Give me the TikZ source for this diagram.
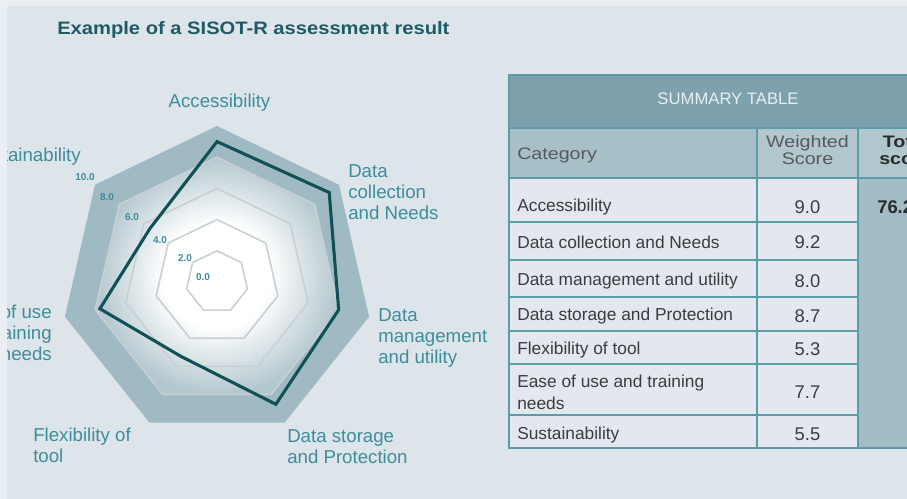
\documentclass[tikz,border=0pt]{standalone}
\usepackage{fontspec}
\setmainfont{Liberation Sans}
\newfontfamily\titlefont[FakeStretch=1.12]{Liberation Sans}
\newfontfamily\hdrfont[FakeStretch=1.18]{Liberation Sans}
\definecolor{bgc}{HTML}{DDE4EA}
\definecolor{stripc}{HTML}{EAEFF3}
\definecolor{titlec}{HTML}{1F5B64}
\definecolor{labc}{HTML}{3E8D9C}
\definecolor{bandc}{HTML}{A0BAC3}
\definecolor{radmid}{HTML}{B3C7CE}
\definecolor{gridc}{HTML}{C8D0D4}
\definecolor{datac}{HTML}{0F5157}
\definecolor{hdrc}{HTML}{7DA2AE}
\definecolor{colhc}{HTML}{A7BFC7}
\definecolor{colhcb}{HTML}{B2C6CD}
\definecolor{cellc}{HTML}{E2E8ED}
\definecolor{totc}{HTML}{A3BCC5}
\definecolor{tlinec}{HTML}{5C9CA8}
\definecolor{ttextc}{HTML}{3A3D40}
\definecolor{hdrtextc}{HTML}{E8EEF1}
\pgfdeclareradialshading{radarshade}{\pgfpoint{0bp}{0bp}}{color(0bp)=(white);color(11bp)=(white);color(25bp)=(radmid);color(50bp)=(radmid)}
\begin{document}
\begin{tikzpicture}[x=0.75pt,y=-0.75pt,
  lab/.style={text=labc, font=\fontsize{14}{15.8}\selectfont, inner sep=0pt},
  scalelab/.style={text=labc, font=\fontsize{7.5}{8}\selectfont\bfseries, inner sep=0pt},
  gridline/.style={draw=gridc, line width=1.2pt, line join=round},
  cell/.style={text=ttextc, font=\fontsize{13}{16.5}\selectfont, inner sep=0pt, anchor=west, align=left},
  val/.style={text=ttextc, font=\fontsize{13.8}{16}\selectfont, inner sep=0pt},
  colhead/.style={text=ttextc!85!white, font=\hdrfont\fontsize{12.5}{12.5}\selectfont, inner sep=0pt, align=center},
  tline/.style={draw=tlinec, line width=1.5pt}]
\useasboundingbox (0,0) rectangle (907,499);
\fill[bgc] (0,0) rectangle (907,499);

% title
\node[text=titlec, font=\titlefont\fontsize{13.5}{14}\selectfont\bfseries, inner sep=0pt, anchor=west] (title) at (57,30) {Example of a SISOT-R assessment result};

% radar background
\fill[bandc] plot[samples at={0,1,2,3,4,5,6}] ({217+156*cos(90-\x*360/7)},{282-156*sin(90-\x*360/7)}) -- cycle;
\shade[shading=radarshade] plot[samples at={0,1,2,3,4,5,6}] ({217+124.8*cos(90-\x*360/7)},{282-124.8*sin(90-\x*360/7)}) -- cycle;
\foreach \r in {31.2,62.4,93.6,124.8}
  \draw[gridline] plot[samples at={0,1,2,3,4,5,6}] ({217+\r*cos(90-\x*360/7)},{282-\r*sin(90-\x*360/7)}) -- cycle;

% scale labels
\node[scalelab] (s10) at (85,177) {10.0};
\node[scalelab] (s8) at (107,197) {8.0};
\node[scalelab] (s6) at (132,217) {6.0};
\node[scalelab] (s4) at (160,240) {4.0};
\node[scalelab] (s2) at (185,258) {2.0};
\node[scalelab] (s0) at (203,277) {0.0};

% data polygon
\foreach \v [count=\i from 0] in {9.0,9.2,8.0,8.7,5.3,7.7,5.5}
  \coordinate (d\i) at ({217+15.6*\v*cos(90-\i*360/7)},{282-15.6*\v*sin(90-\i*360/7)});
\draw[datac, line width=2.3pt, line join=miter] (d0) -- (d1) -- (d2) -- (d3) -- (d4) -- (d5) -- (d6) -- cycle;

% axis labels
\node[lab] (lacc) at (219.5,103) {Accessibility};
\node[lab, anchor=west, align=left] (ldc) at (348,192) {Data\\collection\\and Needs};
\node[lab, anchor=west, align=left] (ldm) at (378,338) {Data\\management\\and utility};
\node[lab, anchor=west, align=left] (lds) at (287,446.5) {Data storage\\and Protection};
\node[lab, anchor=west, align=left] (lfl) at (33,445) {Flexibility of\\tool};
\node[lab, anchor=east, align=right] (lease) at (52,333) {Ease of use\\and training\\needs};
\node[lab, anchor=east] (lsus) at (81,157) {Sustainability};

% table fills
\fill[hdrc] (509,75) rectangle (1000,128);
\fill[colhc] (509,128) rectangle (757,178);
\fill[colhcb] (757,128) rectangle (1000,178);
\fill[cellc] (509,178) rectangle (858,448);
\fill[totc] (858,178) rectangle (1000,448);
% table lines
\draw[tline] (509,75) rectangle (1000,448);
\draw[tline] (509,128) -- (1000,128);
\draw[tline] (509,178) -- (1000,178);
\foreach \yy in {222,260,297,331,364,415}
  \draw[tline] (509,\yy) -- (858,\yy);
\draw[tline] (757,128) -- (757,448);
\draw[tline] (858,128) -- (858,448);

% table text
\node[text=hdrtextc, font=\fontsize{12.5}{14}\selectfont, inner sep=0pt] (thead) at (728,99) {SUMMARY TABLE};
\node[colhead, anchor=west] (hcat) at (517,155) {Category};
\node[colhead] (hws) at (807.5,150) {Weighted\\Score};
\node[colhead, text=ttextc!70!black, font=\hdrfont\fontsize{12.5}{12.5}\selectfont\bfseries] (htot) at (905.5,150) {Total\\score};

\node[cell] (c1) at (517,207) {Accessibility};
\node[cell] (c2) at (517,242) {Data collection and Needs};
\node[cell] (c3) at (517,281) {Data management and utility};
\node[cell] (c4) at (517,316) {Data storage and Protection};
\node[cell] (c5) at (517,350) {Flexibility of tool};
\node[cell] (c6) at (517,392.5) {Ease of use and training\\needs};
\node[cell] (c7) at (517,435) {Sustainability};

\node[val] (v1) at (807.5,207) {9.0};
\node[val] (v2) at (807.5,242) {9.2};
\node[val] (v3) at (807.5,281) {8.0};
\node[val] (v4) at (807.5,316) {8.7};
\node[val] (v5) at (807.5,349) {5.3};
\node[val] (v6) at (807.5,392) {7.7};
\node[val] (v7) at (807.5,434) {5.5};
\node[val, anchor=west, text=ttextc!70!black, font=\fontsize{13.8}{16}\selectfont\bfseries] (vtot) at (877,207) {76.2};

% light margin strips
\fill[stripc] (0,0) rectangle (7,499);
\fill[stripc] (0,0) rectangle (907,6);
\end{tikzpicture}
\end{document}
